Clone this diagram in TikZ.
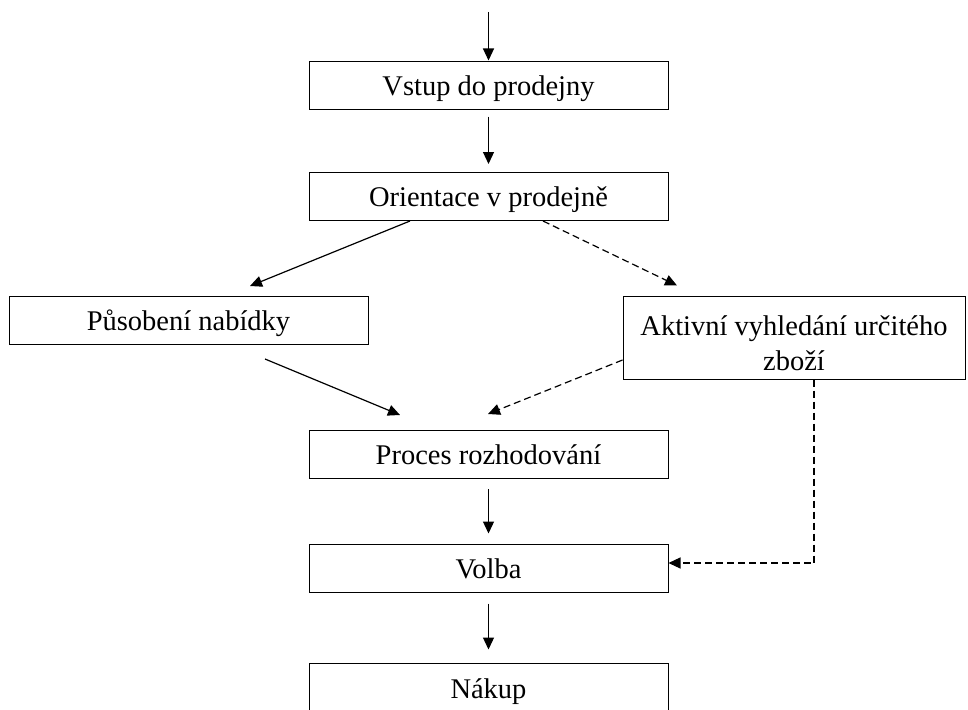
\documentclass[tikz,border=0pt]{standalone}
\usepackage{fontspec}
\setmainfont{Liberation Serif}
\usetikzlibrary{calc,arrows.meta}

\begin{document}
\begin{tikzpicture}[x=1pt, y=-1pt, line width=1.2pt,
  krok/.style={draw, line width=1pt, inner sep=0pt, minimum width=359pt, minimum height=48pt, align=center, text height=22pt, text depth=2pt, font=\fontsize{28.5}{35}\selectfont},
  sipka/.style={-{Triangle[length=12pt,width=11pt]}},
  carkovane/.style={sipka, dash pattern=on 7pt off 4pt}]
\useasboundingbox (0,0) rectangle (968,709);

\coordinate (start) at (488.5, 12);
\node[krok] (vstup) at (488.5, 85) {Vstup do prodejny};
\node[krok] (orient) at (488.5, 196.5) {Orientace v prodejně};
\node[krok] (pusob) at (188.5, 320.5) {Působení nabídky};
\node[krok, text height=65pt, text depth=0pt, minimum width=342pt, minimum height=83pt] (aktiv) at (794, 337.5) {Aktivní vyhledání určitého\\zboží};
\node[krok] (proces) at (488.5, 454.5) {Proces rozhodování};
\node[krok] (volba) at (488.5, 568) {Volba};
\node[krok, minimum height=50pt] (nakup) at (488.5, 688) {Nákup};

\draw[sipka] (start) -- (vstup.north);
\draw[sipka] ($(vstup.south)+(0,7)$) -- ($(orient.north)+(0,-8)$);

\draw[sipka] ($(orient.south)+(-78.5,0)$) -- ($(pusob.north)+(61.5,-10)$);
\draw[carkovane] ($(orient.south)+(54.5,0)$) -- ($(aktiv.north)+(-117,-10)$);

\draw[sipka] ($(pusob.south)+(76.5,14)$) -- ($(proces.north)+(-88.5,-15)$);
\draw[carkovane] ($(aktiv.west)+(0,22.5)$) -- ($(proces.north)+(-0.5,-16)$);

\draw[sipka] ($(proces.south)+(0,10)$) -- ($(volba.north)+(0,-10)$);
\draw[sipka] ($(volba.south)+(0,11)$) -- ($(nakup.north)+(0,-13)$);

\draw[carkovane] ($(aktiv.south)+(20,0)$) |- ($(volba.east)+(0,-5)$);

\end{tikzpicture}
\end{document}
